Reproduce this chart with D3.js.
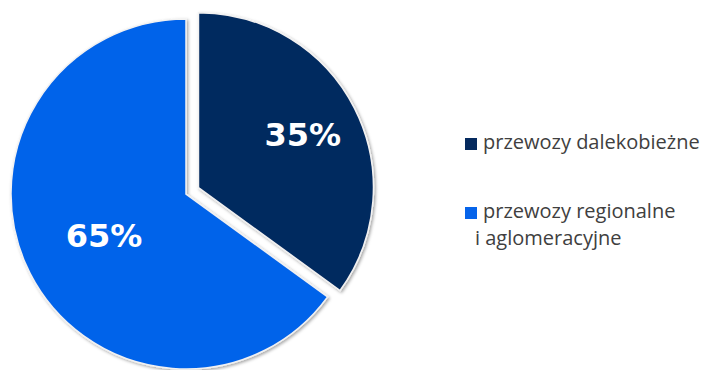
<!DOCTYPE html>
<html>
<head>
<meta charset="utf-8">
<script src="https://cdn.jsdelivr.net/npm/d3@7"></script>
<style>
  body { margin: 0; background: #fff; }
  svg { display: block; }
</style>
</head>
<body>
<svg id="chart"></svg>
<script>
const categories = ['przewozy dalekobieżne', 'przewozy regionalne i aglomeracyjne'];
const values = [35, 65];
const legendLines = [['przewozy dalekobieżne'], ['przewozy regionalne', 'i aglomeracyjne']];
const colors = ['#052a5e', '#0664ea'];

const size = { width: 704, height: 370 };
const center = { x: 186, y: 194 };
const radius = 175;
const explode = [14, 0];
const labelRadius = [117, 92];

const svg = d3.select('#chart')
  .attr('width', size.width)
  .attr('height', size.height);

// soft shadow round the slices
const defs = svg.append('defs');
const shadow = defs.append('filter')
  .attr('id', 'shadow')
  .attr('x', '-10%').attr('y', '-10%')
  .attr('width', '120%').attr('height', '120%');
shadow.append('feDropShadow')
  .attr('dx', 1.5).attr('dy', 1.5)
  .attr('stdDeviation', 1.5)
  .attr('flood-color', '#000')
  .attr('flood-opacity', 0.35);

const pie = d3.pie().value(d => d).sort(null);
const arc = d3.arc().innerRadius(0).outerRadius(radius);
const arcs = pie(values);

const mid = d => (d.startAngle + d.endAngle) / 2;
const dir = d => [Math.sin(mid(d)), -Math.cos(mid(d))];

const slices = svg.append('g')
  .attr('transform', `translate(${center.x},${center.y})`)
  .selectAll('.slice')
  .data(arcs)
  .enter()
  .append('g')
  .attr('class', 'slice')
  .attr('transform', (d, i) => `translate(${dir(d)[0] * explode[i]},${dir(d)[1] * explode[i]})`);

slices.append('path')
  .attr('d', arc)
  .attr('fill', (d, i) => colors[i])
  .attr('stroke', '#f2f2f2')
  .attr('stroke-width', 1.5)
  .attr('filter', 'url(#shadow)');

slices.append('text')
  .attr('x', (d, i) => dir(d)[0] * labelRadius[i])
  .attr('y', (d, i) => dir(d)[1] * labelRadius[i])
  .attr('dy', '0.36em')
  .attr('text-anchor', 'middle')
  .attr('fill', '#fff')
  .style('font-family', '"DejaVu Sans", sans-serif')
  .style('font-weight', 'bold')
  .style('font-size', '32px')
  .text(d => `${d.data}%`);

// legend
const legend = svg.append('g')
  .attr('transform', 'translate(465,138)');

const items = legend.selectAll('.item')
  .data(categories)
  .enter()
  .append('g')
  .attr('class', 'item')
  .attr('transform', (d, i) => `translate(0,${i * 69})`);

items.append('rect')
  .attr('width', 12)
  .attr('height', 12)
  .attr('fill', (d, i) => colors[i]);

items.append('text')
  .style('font-family', '"Open Sans", sans-serif')
  .style('font-size', '20px')
  .attr('fill', '#404040')
  .selectAll('tspan')
  .data((d, i) => legendLines[i])
  .enter()
  .append('tspan')
  .attr('x', (d, j) => j === 0 ? 18 : 10)
  .attr('y', (d, j) => 11 + j * 27)
  .text(d => d);
</script>
</body>
</html>
